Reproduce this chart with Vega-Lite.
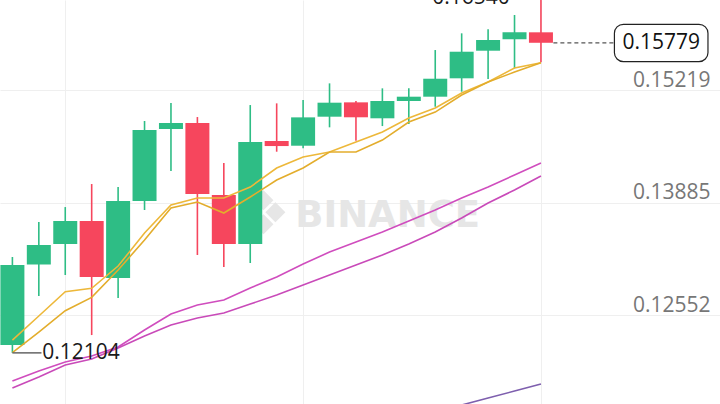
{
  "$schema": "https://vega.github.io/schema/vega-lite/v6.json",
  "width": 720,
  "height": 404,
  "autosize": "none",
  "padding": 0,
  "background": "white",
  "config": {"view": {"stroke": null}, "font": "Open Sans"},
  "datasets": {
    "candles": [
      {"i": 0, "o": 0.12197, "h": 0.13240, "l": 0.12104, "c": 0.13145, "d": "up"},
      {"i": 1, "o": 0.13150, "h": 0.13655, "l": 0.12778, "c": 0.13382, "d": "up"},
      {"i": 2, "o": 0.13394, "h": 0.13832, "l": 0.13027, "c": 0.13666, "d": "up"},
      {"i": 3, "o": 0.13666, "h": 0.14105, "l": 0.12315, "c": 0.13003, "d": "down"},
      {"i": 4, "o": 0.12991, "h": 0.14069, "l": 0.12754, "c": 0.13904, "d": "up"},
      {"i": 5, "o": 0.13904, "h": 0.14852, "l": 0.13797, "c": 0.14745, "d": "up"},
      {"i": 6, "o": 0.14757, "h": 0.15065, "l": 0.14259, "c": 0.14828, "d": "up"},
      {"i": 7, "o": 0.14828, "h": 0.14899, "l": 0.13264, "c": 0.13986, "d": "down"},
      {"i": 8, "o": 0.13975, "h": 0.14354, "l": 0.13121, "c": 0.13394, "d": "down"},
      {"i": 9, "o": 0.13394, "h": 0.15041, "l": 0.13169, "c": 0.14603, "d": "up"},
      {"i": 10, "o": 0.14615, "h": 0.15061, "l": 0.14488, "c": 0.14555, "d": "down"},
      {"i": 11, "o": 0.14559, "h": 0.15101, "l": 0.14528, "c": 0.14895, "d": "up"},
      {"i": 12, "o": 0.14903, "h": 0.15298, "l": 0.14777, "c": 0.15069, "d": "up"},
      {"i": 13, "o": 0.15073, "h": 0.15089, "l": 0.14618, "c": 0.14896, "d": "down"},
      {"i": 14, "o": 0.14884, "h": 0.15239, "l": 0.14792, "c": 0.15089, "d": "up"},
      {"i": 15, "o": 0.15089, "h": 0.15239, "l": 0.14816, "c": 0.15140, "d": "up"},
      {"i": 16, "o": 0.15140, "h": 0.15693, "l": 0.15021, "c": 0.15353, "d": "up"},
      {"i": 17, "o": 0.15358, "h": 0.15891, "l": 0.15199, "c": 0.15673, "d": "up"},
      {"i": 18, "o": 0.15685, "h": 0.15938, "l": 0.15349, "c": 0.15812, "d": "up"},
      {"i": 19, "o": 0.15820, "h": 0.16108, "l": 0.15476, "c": 0.15903, "d": "up"},
      {"i": 20, "o": 0.15903, "h": 0.16540, "l": 0.15547, "c": 0.15779, "d": "down"}
    ],
    "ma": [
      {"i": 0, "s": "y1", "v": 0.12256}, {"i": 1, "s": "y1", "v": 0.12541}, {"i": 2, "s": "y1", "v": 0.12829},
      {"i": 3, "s": "y1", "v": 0.12869}, {"i": 4, "s": "y1", "v": 0.13133}, {"i": 5, "s": "y1", "v": 0.13524},
      {"i": 6, "s": "y1", "v": 0.13856}, {"i": 7, "s": "y1", "v": 0.13939}, {"i": 8, "s": "y1", "v": 0.13939},
      {"i": 9, "s": "y1", "v": 0.14069}, {"i": 10, "s": "y1", "v": 0.14295}, {"i": 11, "s": "y1", "v": 0.14425},
      {"i": 12, "s": "y1", "v": 0.14484}, {"i": 13, "s": "y1", "v": 0.14603}, {"i": 14, "s": "y1", "v": 0.14721},
      {"i": 15, "s": "y1", "v": 0.14887}, {"i": 16, "s": "y1", "v": 0.15006}, {"i": 17, "s": "y1", "v": 0.15183},
      {"i": 18, "s": "y1", "v": 0.15314}, {"i": 19, "s": "y1", "v": 0.15480}, {"i": 20, "s": "y1", "v": 0.15543},
      {"i": 0, "s": "y2", "v": 0.12106}, {"i": 1, "s": "y2", "v": 0.12351}, {"i": 2, "s": "y2", "v": 0.12604},
      {"i": 3, "s": "y2", "v": 0.12762}, {"i": 4, "s": "y2", "v": 0.13086}, {"i": 5, "s": "y2", "v": 0.13441},
      {"i": 6, "s": "y2", "v": 0.13821}, {"i": 7, "s": "y2", "v": 0.13892}, {"i": 8, "s": "y2", "v": 0.13761},
      {"i": 9, "s": "y2", "v": 0.13951}, {"i": 10, "s": "y2", "v": 0.14152}, {"i": 11, "s": "y2", "v": 0.14295},
      {"i": 12, "s": "y2", "v": 0.14484}, {"i": 13, "s": "y2", "v": 0.14484}, {"i": 14, "s": "y2", "v": 0.14626},
      {"i": 15, "s": "y2", "v": 0.14840}, {"i": 16, "s": "y2", "v": 0.14958}, {"i": 17, "s": "y2", "v": 0.15160},
      {"i": 18, "s": "y2", "v": 0.15314}, {"i": 19, "s": "y2", "v": 0.15432}, {"i": 20, "s": "y2", "v": 0.15543},
      {"i": 0, "s": "m1", "v": 0.11770}, {"i": 1, "s": "m1", "v": 0.11889}, {"i": 2, "s": "m1", "v": 0.11996},
      {"i": 3, "s": "m1", "v": 0.12067}, {"i": 4, "s": "m1", "v": 0.12173}, {"i": 5, "s": "m1", "v": 0.12375},
      {"i": 6, "s": "m1", "v": 0.12564}, {"i": 7, "s": "m1", "v": 0.12671}, {"i": 8, "s": "m1", "v": 0.12730},
      {"i": 9, "s": "m1", "v": 0.12873}, {"i": 10, "s": "m1", "v": 0.13003}, {"i": 11, "s": "m1", "v": 0.13157},
      {"i": 12, "s": "m1", "v": 0.13299}, {"i": 13, "s": "m1", "v": 0.13418}, {"i": 14, "s": "m1", "v": 0.13536},
      {"i": 15, "s": "m1", "v": 0.13667}, {"i": 16, "s": "m1", "v": 0.13797}, {"i": 17, "s": "m1", "v": 0.13939},
      {"i": 18, "s": "m1", "v": 0.14070}, {"i": 19, "s": "m1", "v": 0.14212}, {"i": 20, "s": "m1", "v": 0.14354},
      {"i": 0, "s": "m2", "v": 0.11687}, {"i": 1, "s": "m2", "v": 0.11818}, {"i": 2, "s": "m2", "v": 0.11960},
      {"i": 3, "s": "m2", "v": 0.12031}, {"i": 4, "s": "m2", "v": 0.12161}, {"i": 5, "s": "m2", "v": 0.12304},
      {"i": 6, "s": "m2", "v": 0.12434}, {"i": 7, "s": "m2", "v": 0.12517}, {"i": 8, "s": "m2", "v": 0.12576},
      {"i": 9, "s": "m2", "v": 0.12683}, {"i": 10, "s": "m2", "v": 0.12790}, {"i": 11, "s": "m2", "v": 0.12908},
      {"i": 12, "s": "m2", "v": 0.13027}, {"i": 13, "s": "m2", "v": 0.13145}, {"i": 14, "s": "m2", "v": 0.13264},
      {"i": 15, "s": "m2", "v": 0.13394}, {"i": 16, "s": "m2", "v": 0.13536}, {"i": 17, "s": "m2", "v": 0.13702},
      {"i": 18, "s": "m2", "v": 0.13880}, {"i": 19, "s": "m2", "v": 0.14034}, {"i": 20, "s": "m2", "v": 0.14200},
      {"i": 16, "s": "p", "v": 0.11403}, {"i": 17, "s": "p", "v": 0.11486}, {"i": 18, "s": "p", "v": 0.11569},
      {"i": 19, "s": "p", "v": 0.11652}, {"i": 20, "s": "p", "v": 0.11735}
    ]
  },
  "layer": [
    {
      "data": {"values": [{}]},
      "mark": {"type": "text", "text": "❖", "font": "DejaVu Sans", "fontSize": 60, "color": "#E6E6E6", "align": "center", "baseline": "middle"},
      "encoding": {
        "x": {"datum": 9.5, "type": "quantitative", "scale": {"domain": [-0.28, 26.586], "nice": false, "zero": false}},
        "y": {"datum": 0.13726, "type": "quantitative", "scale": {"domain": [0.11498, 0.16286], "nice": false, "zero": false}}
      }
    },
    {
      "data": {"values": [{}]},
      "mark": {"type": "text", "text": "BINANCE", "font": "DejaVu Sans", "fontWeight": "bold", "fontSize": 37, "color": "#E6E6E6", "align": "center", "baseline": "middle"},
      "encoding": {
        "x": {"datum": 14.2, "type": "quantitative", "scale": {"domain": [-0.28, 26.586], "nice": false, "zero": false}},
        "y": {"datum": 0.13726, "type": "quantitative", "scale": {"domain": [0.11498, 0.16286], "nice": false, "zero": false}}
      }
    },
    {
      "data": {"name": "candles"},
      "mark": {"type": "rule", "strokeWidth": 1.6, "clip": true},
      "encoding": {
        "x": {"field": "i", "type": "quantitative", "scale": {"domain": [-0.28, 26.586], "nice": false, "zero": false},
          "axis": {"values": [2, 11, 20], "grid": true, "gridColor": "#EFEFEF", "labels": false, "ticks": false, "domain": false, "title": null}},
        "y": {"field": "l", "type": "quantitative", "scale": {"domain": [0.11498, 0.16286], "nice": false, "zero": false},
          "axis": {"orient": "right", "values": [0.12552, 0.13885, 0.15219], "format": ".5f", "grid": true, "gridColor": "#EFEFEF", "ticks": false, "tickSize": 0, "domain": false, "labelAlign": "right", "labelPadding": -10, "labelBaseline": "alphabetic", "labelOffset": -4, "labelFontSize": 21, "labelColor": "#777777", "labelFont": "Open Sans", "title": null}},
        "y2": {"field": "h"},
        "color": {"field": "d", "type": "nominal", "scale": {"domain": ["up", "down"], "range": ["#2EBD85", "#F6465D"]}, "legend": null}
      }
    },
    {
      "data": {"name": "candles"},
      "mark": {"type": "bar", "width": 24, "clip": true},
      "encoding": {
        "x": {"field": "i", "type": "quantitative", "scale": {"domain": [-0.28, 26.586], "nice": false, "zero": false}},
        "y": {"field": "o", "type": "quantitative", "scale": {"domain": [0.11498, 0.16286], "nice": false, "zero": false}},
        "y2": {"field": "c"},
        "color": {"field": "d", "type": "nominal", "scale": {"domain": ["up", "down"], "range": ["#2EBD85", "#F6465D"]}, "legend": null}
      }
    },
    {
      "data": {"name": "ma"},
      "mark": {"type": "line", "strokeWidth": 1.6, "clip": true},
      "encoding": {
        "x": {"field": "i", "type": "quantitative", "scale": {"domain": [-0.28, 26.586], "nice": false, "zero": false}},
        "y": {"field": "v", "type": "quantitative", "scale": {"domain": [0.11498, 0.16286], "nice": false, "zero": false}},
        "stroke": {"field": "s", "type": "nominal", "scale": {"domain": ["y1", "y2", "m1", "m2", "p"], "range": ["#EDB83A", "#E3AD2C", "#D04DBE", "#C94AB9", "#7E5FAE"]}, "legend": null},
        "order": {"field": "i"}
      }
    },
    {
      "data": {"values": [{}]},
      "mark": {"type": "rule", "color": "#666666", "strokeWidth": 1.5},
      "encoding": {
        "x": {"datum": 0, "type": "quantitative", "scale": {"domain": [-0.28, 26.586], "nice": false, "zero": false}},
        "x2": {"datum": 1.1},
        "y": {"datum": 0.12104, "type": "quantitative", "scale": {"domain": [0.11498, 0.16286], "nice": false, "zero": false}}
      }
    },
    {
      "data": {"values": [{}]},
      "mark": {"type": "text", "text": "0.12104", "fontSize": 21, "color": "#1A1A1A", "align": "left", "baseline": "middle", "font": "Open Sans"},
      "encoding": {
        "x": {"datum": 1.13, "type": "quantitative", "scale": {"domain": [-0.28, 26.586], "nice": false, "zero": false}},
        "y": {"datum": 0.12104, "type": "quantitative", "scale": {"domain": [0.11498, 0.16286], "nice": false, "zero": false}}
      }
    },
    {
      "data": {"values": [{}]},
      "mark": {"type": "text", "text": "0.16540", "fontSize": 21, "color": "#1A1A1A", "align": "right", "baseline": "alphabetic", "dy": 25, "font": "Open Sans"},
      "encoding": {
        "x": {"datum": 18.82, "type": "quantitative", "scale": {"domain": [-0.28, 26.586], "nice": false, "zero": false}},
        "y": {"datum": 0.1654, "type": "quantitative", "scale": {"domain": [0.11498, 0.16286], "nice": false, "zero": false}}
      }
    },
    {
      "data": {"values": [{}]},
      "mark": {"type": "rule", "color": "#555555", "strokeWidth": 1.3, "strokeDash": [4, 3]},
      "encoding": {
        "x": {"datum": 20.47, "type": "quantitative", "scale": {"domain": [-0.28, 26.586], "nice": false, "zero": false}},
        "x2": {"datum": 22.78},
        "y": {"datum": 0.15779, "type": "quantitative", "scale": {"domain": [0.11498, 0.16286], "nice": false, "zero": false}}
      }
    },
    {
      "data": {"values": [{}]},
      "mark": {"type": "rect", "fill": "white", "stroke": "#222222", "strokeWidth": 1.2, "cornerRadius": 9},
      "encoding": {
        "x": {"datum": 22.78, "type": "quantitative", "scale": {"domain": [-0.28, 26.586], "nice": false, "zero": false}},
        "x2": {"datum": 26.32},
        "y": {"datum": 0.15998, "type": "quantitative", "scale": {"domain": [0.11498, 0.16286], "nice": false, "zero": false}},
        "y2": {"datum": 0.15555}
      }
    },
    {
      "data": {"values": [{}]},
      "mark": {"type": "text", "text": "0.15779", "fontSize": 21, "color": "#111111", "align": "center", "baseline": "middle", "font": "Open Sans"},
      "encoding": {
        "x": {"datum": 24.55, "type": "quantitative", "scale": {"domain": [-0.28, 26.586], "nice": false, "zero": false}},
        "y": {"datum": 0.15779, "type": "quantitative", "scale": {"domain": [0.11498, 0.16286], "nice": false, "zero": false}}
      }
    }
  ]
}
